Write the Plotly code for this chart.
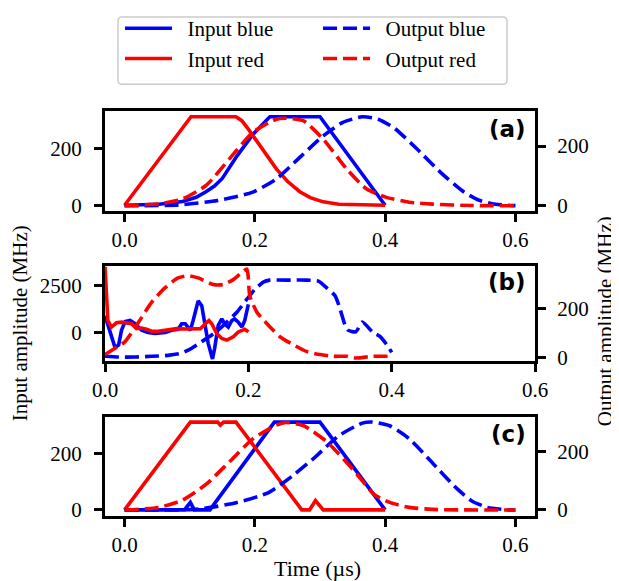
import plotly.graph_objects as go

# ---------------- data (time in µs, amplitudes in MHz) ----------------
# panel (a)
ta_in_blue = [0, 0.03, 0.053, 0.089, 0.11, 0.125, 0.138, 0.15, 0.173, 0.197, 0.223, 0.300, 0.400]
va_in_blue = [0, 1, 3.5, 13, 28, 48, 68, 95, 176, 251, 314, 314, 0]
ta_in_red = [0, 0.102, 0.171, 0.18, 0.19, 0.2, 0.215, 0.233, 0.25, 0.269, 0.285, 0.305, 0.329, 0.36, 0.4]
va_in_red = [0, 314, 314, 300, 270, 238, 188, 129, 85, 48, 27, 12, 3.5, 1, 0]
ta_out_blue = [0, 0.083, 0.143, 0.197, 0.233, 0.269, 0.305, 0.335, 0.365, 0.389, 0.413, 0.449, 0.485,
               0.521, 0.545, 0.569, 0.593, 0.6]
va_out_blue = [0, 3, 18, 46, 90, 162, 234, 279, 298, 290, 262, 190, 112, 46, 18, 5.5, 1, 0.5]
ta_out_red = [0, 0.053, 0.089, 0.125, 0.161, 0.197, 0.233, 0.248, 0.275, 0.305, 0.341, 0.371, 0.401,
              0.437, 0.473, 0.533, 0.6]
va_out_red = [0, 7, 23, 68, 157, 246, 290, 293, 284, 223, 123, 57, 29, 12, 5.5, 1, 0]

# panel (b)
tb_in_blue = [0, 0.007, 0.014, 0.019, 0.023, 0.028, 0.035, 0.042, 0.051, 0.06, 0.07, 0.084, 0.093,
              0.102, 0.107, 0.112, 0.119, 0.123, 0.13, 0.135, 0.14, 0.144, 0.15, 0.153, 0.158, 0.163,
              0.167, 0.172, 0.177, 0.181, 0.186, 0.191, 0.195, 0.2]
vb_in_blue = [900, 35, -800, -660, 122, 590, 642, 469, 122, 0, -52, 0, 122, 174, 469, 469, 122, 642,
              1684, 1424, 295, -573, -1400, -833, 382, 729, 469, 295, 642, 729, 555, 295, 642, 1500]
tb_in_red = [0, 0.002, 0.004, 0.009, 0.016, 0.023, 0.03, 0.037, 0.044, 0.051, 0.058, 0.065, 0.074,
             0.084, 0.093, 0.1, 0.112, 0.121, 0.133, 0.14, 0.145, 0.149, 0.156, 0.163, 0.17, 0.179,
             0.186, 0.195, 0.2]
vb_in_red = [3500, 1800, 642, 295, 520, 555, 520, 469, 208, 243, 174, 69, 69, 122, 174, 208, 190, 190,
             208, 469, 642, 469, -52, -312, -400, -226, 35, 174, 35]
tb_out_blue = [0, 0.019, 0.042, 0.065, 0.088, 0.107, 0.121, 0.135, 0.149, 0.163, 0.17, 0.184, 0.198,
               0.209, 0.221, 0.23, 0.253, 0.281, 0.298, 0.309, 0.321, 0.328, 0.335, 0.339, 0.35, 0.359,
               0.373, 0.384, 0.395, 0.4]
vb_out_blue = [4, 1, 1, 4, 8, 17, 37, 64, 91, 124, 144, 184, 237, 277, 307, 315, 315, 315, 311, 284,
               251, 197, 131, 111, 104, 144, 104, 84, 44, 20]
tb_out_red = [0, 0.014, 0.028, 0.047, 0.065, 0.084, 0.102, 0.116, 0.13, 0.151, 0.165, 0.179, 0.193,
              0.198, 0.2, 0.202, 0.212, 0.226, 0.244, 0.263, 0.281, 0.3, 0.319, 0.337, 0.35, 0.373, 0.4]
vb_out_red = [11, 37, 64, 144, 224, 284, 324, 333, 324, 297, 297, 317, 351, 360, 324, 251, 184, 137,
              84, 51, 24, 11, 4, 4, -3, 4, 4]

# panel (c)
tc_in_blue = [0, 0.092, 0.101, 0.107, 0.131, 0.230, 0.3, 0.4]
vc_in_blue = [0, 0, 27, 0, 0, 313, 313, 0]
tc_in_red = [0, 0.101, 0.143, 0.147, 0.152, 0.171, 0.272, 0.284, 0.293, 0.305, 0.4]
vc_in_red = [0, 313, 313, 302, 313, 313, 0, 0, 33, 0, 0]
tc_out_blue = [0, 0.113, 0.173, 0.221, 0.257, 0.293, 0.329, 0.365, 0.38, 0.407, 0.437, 0.473, 0.509,
               0.533, 0.557, 0.593, 0.6]
vc_out_blue = [0, 3, 26, 60, 116, 183, 256, 299, 303, 290, 245, 161, 76, 31, 9, 0, 0]
tc_out_red = [0, 0.053, 0.089, 0.125, 0.161, 0.197, 0.233, 0.248, 0.275, 0.311, 0.353, 0.383, 0.407,
              0.437, 0.473, 0.6]
vc_out_red = [0, 9, 34, 88, 166, 245, 292, 301, 290, 234, 133, 54, 26, 9, 2, 0]

x_ticks = [0.0, 0.2, 0.4, 0.6]
panel_labels = ["(a)", "(b)", "(c)"]
series_names = ["Input blue", "Input red", "Output blue", "Output red"]

# ---------------- figure ----------------
# page body has an 8px margin; figure is sized to fill the rest of the 619x581 window
OFF = 8
W, H = 619 - OFF, 581 - OFF


def fx(px):
    return (px - OFF) / W


def fy(py):
    return 1 - (py - OFF) / H


BLUE, RED = "#0000ff", "#ff0000"
LW = 3.6
DASH = "14px,6px"
SERIF = "Liberation Serif, Times New Roman, serif"

fig = go.Figure()

panels = [
    (ta_in_blue, va_in_blue, ta_in_red, va_in_red, ta_out_blue, va_out_blue, ta_out_red, va_out_red),
    (tb_in_blue, vb_in_blue, tb_in_red, vb_in_red, tb_out_blue, vb_out_blue, tb_out_red, vb_out_red),
    (tc_in_blue, vc_in_blue, tc_in_red, vc_in_red, tc_out_blue, vc_out_blue, tc_out_red, vc_out_red),
]

for i, p in enumerate(panels):
    xa = "x" if i == 0 else f"x{i+1}"
    yl = "y" if i == 0 else f"y{2*i+1}"
    yr = f"y{2*i+2}"
    show = i == 0
    specs = [
        (p[0], p[1], BLUE, "solid", yl, series_names[0], "legend", 1, "linear"),
        (p[2], p[3], RED, "solid", yl, series_names[1], "legend", 2, "linear"),
        (p[4], p[5], BLUE, DASH, yr, series_names[2], "legend2", 3, "spline"),
        (p[6], p[7], RED, DASH, yr, series_names[3], "legend2", 4, "spline"),
    ]
    for (t, v, c, d, ya, name, lg, rank, shape) in specs:
        fig.add_trace(go.Scatter(
            x=t, y=v, xaxis=xa, yaxis=ya, mode="lines",
            line=dict(color=c, width=LW, dash=d, shape=shape, smoothing=0.6),
            name="\u00a0\u00a0" + name, showlegend=show, legend=lg, legendrank=rank,
            hoverinfo="skip"))

x_dom = [fx(105), fx(535)]
boxes = [(105, 206), (262, 358), (415, 515)]
x_ranges = [[-0.03, 0.63], [0.0, 0.6], [-0.03, 0.63]]
yl_ranges = [[-19, 335], [-1495, 3542], [-21, 331]]
yr_ranges = [[-16, 318], [-14, 373], [-20, 320]]
yl_ticks = [[0, 200], [0, 2500], [0, 200]]
yr_ticks = [[0, 200], [0, 200], [0, 200]]

tickfont = dict(family=SERIF, size=21, color="black")
common = dict(showline=True, linecolor="black", linewidth=3, ticks="outside", ticklen=8,
              tickwidth=2.5, tickcolor="black", showgrid=False, zeroline=False,
              tickfont=tickfont, automargin=False)

layout = {}
for i in range(3):
    top, bot = boxes[i]
    ydom = [fy(bot), fy(top)]
    xk = "xaxis" if i == 0 else f"xaxis{i+1}"
    ylk = "yaxis" if i == 0 else f"yaxis{2*i+1}"
    yrk = f"yaxis{2*i+2}"
    yl = "y" if i == 0 else f"y{2*i+1}"
    xa = "x" if i == 0 else f"x{i+1}"
    layout[xk] = dict(domain=x_dom, anchor=yl, range=x_ranges[i], tickvals=x_ticks,
                      ticktext=[f"{v:.1f}" for v in x_ticks], mirror=True, **common)
    layout[ylk] = dict(domain=ydom, anchor=xa, range=yl_ranges[i], tickvals=yl_ticks[i],
                       side="left", ticklabelstandoff=8, **common)
    layout[yrk] = dict(domain=ydom, anchor=xa, overlaying=yl, side="right", range=yr_ranges[i],
                       tickvals=yr_ticks[i], ticklabelstandoff=7, **common)

fig.update_layout(**layout)

annotations = []
label_y = [123.3, 278.5, 432]
for lab, yy in zip(panel_labels, label_y):
    annotations.append(dict(text=f"<b>{lab}</b>", xref="paper", yref="paper", x=fx(528), y=fy(yy),
                            xanchor="right", yanchor="middle", showarrow=False,
                            font=dict(family="DejaVu Sans", size=23, color="black")))
annotations.append(dict(text="Input amplitude (MHz)", xref="paper", yref="paper", x=fx(20),
                        y=fy(320), textangle=-90, showarrow=False, xanchor="center",
                        yanchor="middle", font=dict(family=SERIF, size=21, color="black")))
annotations.append(dict(text="Output amplitude (MHz)", xref="paper", yref="paper", x=fx(605),
                        y=fy(318), textangle=-90, showarrow=False, xanchor="center",
                        yanchor="middle", font=dict(family=SERIF, size=21, color="black")))
annotations.append(dict(text="Time (µs)", xref="paper", yref="paper", x=fx(317), y=fy(568),
                        showarrow=False, xanchor="center", yanchor="middle",
                        font=dict(family=SERIF, size=22, color="black")))

# legend frame (rounded rectangle)
x0, x1, y0, y1 = fx(118), fx(507), fy(78), fy(10)
rx, ry = 4 / W, 4 / H
frame = (f"M {x0+rx},{y1} L {x1-rx},{y1} Q {x1},{y1} {x1},{y1-ry} L {x1},{y0+ry} "
         f"Q {x1},{y0} {x1-rx},{y0} L {x0+rx},{y0} Q {x0},{y0} {x0},{y0+ry} L {x0},{y1-ry} "
         f"Q {x0},{y1} {x0+rx},{y1} Z")

legfont = dict(family=SERIF, size=21, color="black")
fig.update_layout(
    width=W, height=H, margin=dict(l=0, r=0, t=0, b=0),
    font=dict(family=SERIF, size=21, color="black"),
    paper_bgcolor="white", plot_bgcolor="white",
    annotations=annotations,
    shapes=[dict(type="path", path=frame, xref="paper", yref="paper",
                 line=dict(color="#cccccc", width=1.5), fillcolor="white", layer="below")],
    legend=dict(x=fx(120), y=fy(1), xanchor="left", yanchor="top", orientation="v",
                font=legfont, itemwidth=47, bgcolor="rgba(0,0,0,0)", borderwidth=0,
                tracegroupgap=0),
    legend2=dict(x=fx(318), y=fy(1), xanchor="left", yanchor="top", orientation="v",
                 font=legfont, itemwidth=47, bgcolor="rgba(0,0,0,0)", borderwidth=0,
                 tracegroupgap=0),
    hovermode=False,
)

fig.write_html("out.html", config={"displayModeBar": False})
